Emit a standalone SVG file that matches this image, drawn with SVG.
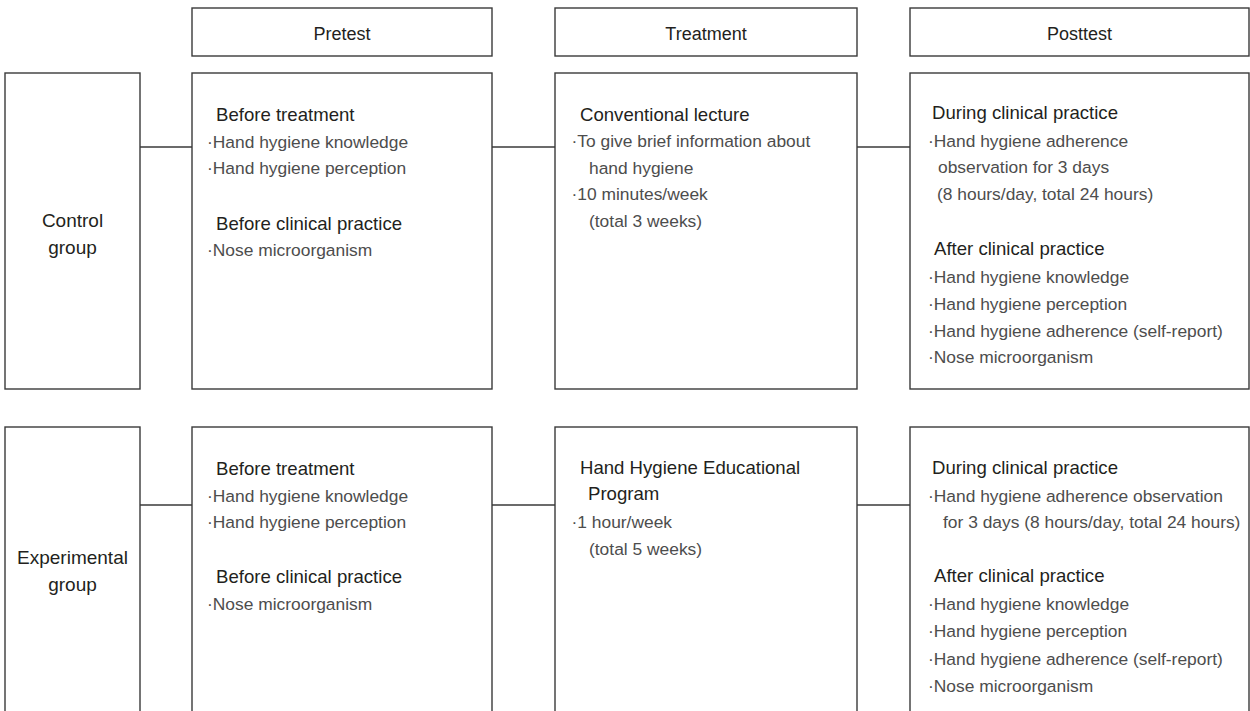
<svg xmlns="http://www.w3.org/2000/svg" width="1250" height="711" viewBox="0 0 1250 711">
<style>
.box{fill:#fff;stroke:#3a3a3a;stroke-width:1.4}
.conn{stroke:#3a3a3a;stroke-width:1.4;fill:none}
.hd{font-family:"Liberation Sans",Arial,sans-serif;font-size:18px;fill:#231f20;text-anchor:middle}
.grp{font-family:"Liberation Sans",Arial,sans-serif;font-size:19px;fill:#231f20;text-anchor:middle}
.h{font-family:"Liberation Sans",Arial,sans-serif;font-size:18.6px;fill:#231f20}
.it{font-family:"Liberation Sans",Arial,sans-serif;font-size:17.4px;fill:#4d4d4d}
</style>
<rect width="1250" height="711" fill="#fff"/>
<g id="connectors">
<line class="conn" x1="140" y1="147" x2="192" y2="147"/>
<line class="conn" x1="492" y1="147" x2="555" y2="147"/>
<line class="conn" x1="857" y1="147" x2="910" y2="147"/>
<line class="conn" x1="140" y1="505" x2="192" y2="505"/>
<line class="conn" x1="492" y1="505" x2="555" y2="505"/>
<line class="conn" x1="857" y1="505" x2="910" y2="505"/>
</g>
<g id="hdr-pretest">
<rect class="box" x="192" y="8" width="300" height="48"/>
<text class="hd" x="342" y="40">Pretest</text>
</g>
<g id="hdr-treatment">
<rect class="box" x="555" y="8" width="302" height="48"/>
<text class="hd" x="706" y="40">Treatment</text>
</g>
<g id="hdr-posttest">
<rect class="box" x="910" y="8" width="339" height="48"/>
<text class="hd" x="1079.5" y="40">Posttest</text>
</g>
<g id="control-group">
<rect class="box" x="5" y="73" width="135" height="316"/>
<text class="grp" x="72.5" y="227">Control</text>
<text class="grp" x="72.5" y="254">group</text>
</g>
<g id="control-pretest">
<rect class="box" x="192" y="73" width="300" height="316"/>
<text class="h" x="216" y="121">Before treatment</text>
<text class="it" x="207" y="147.5">·Hand hygiene knowledge</text>
<text class="it" x="207" y="174">·Hand hygiene perception</text>
<text class="h" x="216" y="229.5">Before clinical practice</text>
<text class="it" x="207" y="256">·Nose microorganism</text>
</g>
<g id="control-treatment">
<rect class="box" x="555" y="73" width="302" height="316"/>
<text class="h" x="580" y="120.5">Conventional lecture</text>
<text class="it" x="571.5" y="147">·To give brief information about</text>
<text class="it" x="589" y="173.5">hand hygiene</text>
<text class="it" x="571.5" y="200">·10 minutes/week</text>
<text class="it" x="589" y="226.5">(total 3 weeks)</text>
</g>
<g id="control-posttest">
<rect class="box" x="910" y="73" width="339" height="316"/>
<text class="h" x="932" y="119">During clinical practice</text>
<text class="it" x="928" y="146.5">·Hand hygiene adherence</text>
<text class="it" x="938" y="173">observation for 3 days</text>
<text class="it" x="937" y="199.5">(8 hours/day, total 24 hours)</text>
<text class="h" x="934" y="255">After clinical practice</text>
<text class="it" x="928" y="283">·Hand hygiene knowledge</text>
<text class="it" x="928" y="310">·Hand hygiene perception</text>
<text class="it" x="928" y="336.5">·Hand hygiene adherence (self-report)</text>
<text class="it" x="928" y="363">·Nose microorganism</text>
</g>
<g id="experimental-group">
<rect class="box" x="5" y="427" width="135" height="292"/>
<text class="grp" x="72.5" y="564">Experimental</text>
<text class="grp" x="72.5" y="591">group</text>
</g>
<g id="experimental-pretest">
<rect class="box" x="192" y="427" width="300" height="292"/>
<text class="h" x="216" y="474.5">Before treatment</text>
<text class="it" x="207" y="501.5">·Hand hygiene knowledge</text>
<text class="it" x="207" y="528">·Hand hygiene perception</text>
<text class="h" x="216" y="583">Before clinical practice</text>
<text class="it" x="207" y="610">·Nose microorganism</text>
</g>
<g id="experimental-treatment">
<rect class="box" x="555" y="427" width="302" height="292"/>
<text class="h" x="580" y="473.5">Hand Hygiene Educational</text>
<text class="h" x="588" y="500">Program</text>
<text class="it" x="571.5" y="528">·1 hour/week</text>
<text class="it" x="589" y="554.5">(total 5 weeks)</text>
</g>
<g id="experimental-posttest">
<rect class="box" x="910" y="427" width="339" height="292"/>
<text class="h" x="932" y="473.5">During clinical practice</text>
<text class="it" x="928" y="501.5">·Hand hygiene adherence observation</text>
<text class="it" x="943" y="528">for 3 days (8 hours/day, total 24 hours)</text>
<text class="h" x="934" y="581.5">After clinical practice</text>
<text class="it" x="928" y="610">·Hand hygiene knowledge</text>
<text class="it" x="928" y="637">·Hand hygiene perception</text>
<text class="it" x="928" y="664.5">·Hand hygiene adherence (self-report)</text>
<text class="it" x="928" y="691.5">·Nose microorganism</text>
</g>
</svg>
